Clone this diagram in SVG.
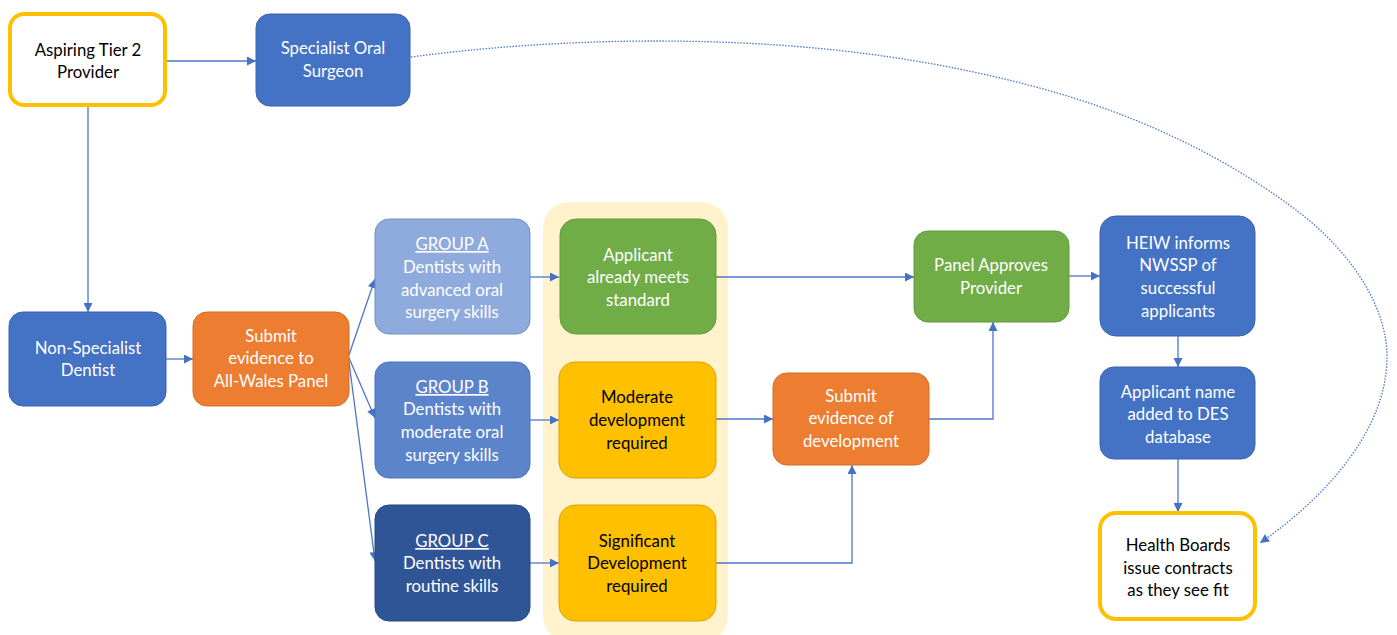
<svg xmlns="http://www.w3.org/2000/svg" width="1397" height="635" viewBox="0 0 1397 635">
<style>
text{font-family:Lato,"Liberation Sans",sans-serif;font-size:16.8px;text-anchor:middle}
.w{fill:#ffffff}
.k{fill:#000000}
.blue{fill:#4472C4;stroke:#3A63AD;stroke-width:1}
.ga{fill:#8FAADC;stroke:#6F8FC8;stroke-width:1}
.gb{fill:#5B84CB;stroke:#4A72B8;stroke-width:1}
.gc{fill:#2F5597;stroke:#264A86;stroke-width:1}
.green{fill:#70AD47;stroke:#63993E;stroke-width:1}
.orange{fill:#ED7D31;stroke:#D46C25;stroke-width:1}
.yel{fill:#FFC000;stroke:#D9A300;stroke-width:1}
.ybox{fill:#ffffff;stroke:#FFC000;stroke-width:4}
.c{fill:none;stroke:#4A78C8;stroke-width:1.3}
.u{text-decoration:underline}
</style>
<defs>
<marker id="ah" viewBox="0 0 10 10" refX="10" refY="5" markerWidth="10" markerHeight="9" markerUnits="userSpaceOnUse" orient="auto">
<path d="M0,0 L10,5 L0,10 z" fill="#4472C4"/>
</marker>
</defs>
<rect x="543" y="202" width="185" height="440" rx="26" fill="#FFF2CC"/>
<g id="connectors">
<line class="c" x1="166" y1="61" x2="256" y2="61" marker-end="url(#ah)"/>
<line class="c" x1="88" y1="106" x2="88" y2="312" marker-end="url(#ah)"/>
<line class="c" x1="166" y1="359" x2="193" y2="359" marker-end="url(#ah)"/>
<line class="c" x1="349" y1="355" x2="375" y2="279" marker-end="url(#ah)"/>
<line class="c" x1="349" y1="358" x2="375" y2="418" marker-end="url(#ah)"/>
<line class="c" x1="349" y1="362" x2="375" y2="561" marker-end="url(#ah)"/>
<line class="c" x1="530" y1="277" x2="559" y2="277" marker-end="url(#ah)"/>
<line class="c" x1="530" y1="420" x2="559" y2="420" marker-end="url(#ah)"/>
<line class="c" x1="530" y1="563" x2="559" y2="563" marker-end="url(#ah)"/>
<line class="c" x1="716" y1="277" x2="914" y2="277" marker-end="url(#ah)"/>
<line class="c" x1="716" y1="419" x2="773" y2="419" marker-end="url(#ah)"/>
<polyline class="c" points="716,563 852,563 852,465" marker-end="url(#ah)"/>
<polyline class="c" points="929,419 993,419 993,322" marker-end="url(#ah)"/>
<line class="c" x1="1069" y1="276" x2="1100" y2="276" marker-end="url(#ah)"/>
<line class="c" x1="1178" y1="336" x2="1178" y2="367" marker-end="url(#ah)"/>
<line class="c" x1="1178" y1="459" x2="1178" y2="512" marker-end="url(#ah)"/>
<path class="c" stroke-dasharray="1.5 1.5" d="M411,57 C500,45 590,41 654,41 C784,41 909,53 1036,87 C1130,112 1223,154 1300,213 C1344,247 1387,301 1387,357 C1387,432 1322,500 1260,543" marker-end="url(#ah)"/>
</g>
<g id="aspiring"><rect class="ybox" x="10" y="14" width="155" height="91" rx="14"/><text class="k" x="88" y="56">Aspiring Tier 2</text><text class="k" x="88" y="78">Provider</text></g>
<g id="specialist"><rect class="blue" x="256" y="14" width="154" height="92" rx="14"/><text class="w" x="333" y="54">Specialist Oral</text><text class="w" x="333" y="77">Surgeon</text></g>
<g id="nonspecialist"><rect class="blue" x="9" y="312" width="157" height="94" rx="14"/><text class="w" x="88" y="354">Non-Specialist</text><text class="w" x="88" y="376">Dentist</text></g>
<g id="submit1"><rect class="orange" x="193" y="312" width="156" height="94" rx="14"/><text class="w" x="271" y="342">Submit</text><text class="w" x="271" y="364">evidence to</text><text class="w" x="271" y="387">All-Wales Panel</text></g>
<g id="groupA"><rect class="ga" x="375" y="219" width="155" height="115" rx="14"/><text class="w u" x="452" y="250">GROUP A</text><text class="w" x="452" y="273">Dentists with</text><text class="w" x="452" y="296">advanced oral</text><text class="w" x="452" y="318">surgery skills</text></g>
<g id="groupB"><rect class="gb" x="375" y="362" width="155" height="116" rx="14"/><text class="w u" x="452" y="393">GROUP B</text><text class="w" x="452" y="415">Dentists with</text><text class="w" x="452" y="438">moderate oral</text><text class="w" x="452" y="461">surgery skills</text></g>
<g id="groupC"><rect class="gc" x="375" y="505" width="155" height="116" rx="14"/><text class="w u" x="452" y="547">GROUP C</text><text class="w" x="452" y="569">Dentists with</text><text class="w" x="452" y="592">routine skills</text></g>
<g id="meets"><rect class="green" x="560" y="219" width="156" height="115" rx="16"/><text class="w" x="638" y="261">Applicant</text><text class="w" x="638" y="283">already meets</text><text class="w" x="638" y="306">standard</text></g>
<g id="moderate"><rect class="yel" x="559" y="362" width="157" height="116" rx="16"/><text class="k" x="637" y="403">Moderate</text><text class="k" x="637" y="426">development</text><text class="k" x="637" y="449">required</text></g>
<g id="significant"><rect class="yel" x="559" y="505" width="157" height="116" rx="16"/><text class="k" x="637" y="547">Significant</text><text class="k" x="637" y="569">Development</text><text class="k" x="637" y="592">required</text></g>
<g id="submit2"><rect class="orange" x="773" y="373" width="156" height="92" rx="14"/><text class="w" x="851" y="402">Submit</text><text class="w" x="851" y="424">evidence of</text><text class="w" x="851" y="447">development</text></g>
<g id="panel"><rect class="green" x="914" y="231" width="155" height="91" rx="14"/><text class="w" x="991" y="271">Panel Approves</text><text class="w" x="991" y="294">Provider</text></g>
<g id="heiw"><rect class="blue" x="1100" y="216" width="155" height="120" rx="16"/><text class="w" x="1178" y="249">HEIW informs</text><text class="w" x="1178" y="271">NWSSP of</text><text class="w" x="1178" y="294">successful</text><text class="w" x="1178" y="317">applicants</text></g>
<g id="desname"><rect class="blue" x="1100" y="367" width="155" height="92" rx="14"/><text class="w" x="1178" y="398">Applicant name</text><text class="w" x="1178" y="420">added to DES</text><text class="w" x="1178" y="443">database</text></g>
<g id="healthboards"><rect class="ybox" x="1100" y="513" width="155" height="106" rx="16"/><text class="k" x="1178" y="551">Health Boards</text><text class="k" x="1178" y="574">issue contracts</text><text class="k" x="1178" y="596">as they see fit</text></g>
</svg>
